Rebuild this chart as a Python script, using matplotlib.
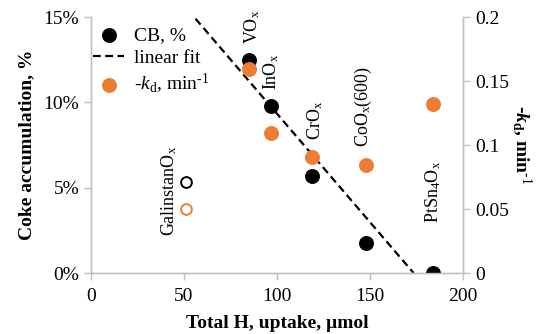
import numpy as np
import matplotlib
matplotlib.use("Agg")
import matplotlib.pyplot as plt
from matplotlib.ticker import FuncFormatter

plt.rcParams['font.family'] = ['Liberation Serif', 'DejaVu Serif']
plt.rcParams['mathtext.fontset'] = 'custom'
plt.rcParams['mathtext.rm'] = 'Liberation Serif'
plt.rcParams['mathtext.it'] = 'Liberation Serif:italic'
plt.rcParams['mathtext.bf'] = 'Liberation Serif:bold'
plt.rcParams['mathtext.bfit'] = 'Liberation Serif:italic:bold'

# data
catalysts = ["VO$_\\mathrm{x}$", "InO$_\\mathrm{x}$", "CrO$_\\mathrm{x}$",
             "CoO$_\\mathrm{x}$(600)", "PtSn$_4$O$_\\mathrm{x}$"]
h2_uptake = [85, 97, 119, 148, 184]
coke_pct = [12.5, 9.8, 5.7, 1.77, 0.0]
kd = [0.159, 0.109, 0.091, 0.084, 0.132]

galinstan_label = "GalinstanO$_\\mathrm{x}$"
galinstan_h2 = [51]
galinstan_coke = [5.33]
galinstan_kd = [0.050]

orange = "#ED7D31"
grey = "#BFBFBF"

fig = plt.figure(figsize=(5.4, 3.34), dpi=100)
ax = fig.add_axes([0.1685, 0.1826, 0.6889, 0.7665])
ax2 = ax.twinx()

# linear fit through the filled CB points
slope, icpt = np.polyfit(h2_uptake, coke_pct, 1)
x0 = (14.9 - icpt) / slope
x1 = -icpt / slope
xf = np.array([x0, x1])
fit_line, = ax.plot(xf, slope * xf + icpt, ls=(0, (3.5, 2)), color="black", lw=1.6)

cb = ax.scatter(h2_uptake, coke_pct, s=95, color="black", zorder=3)
ax.scatter(galinstan_h2, galinstan_coke, s=60, facecolors="white",
           edgecolors="black", linewidths=1.4, zorder=3)
kd_pts = ax2.scatter(h2_uptake, kd, s=95, color=orange, zorder=3)
ax2.scatter(galinstan_h2, galinstan_kd, s=60, facecolors="white",
            edgecolors=orange, linewidths=1.4, zorder=3)

ax.set_xlim(0, 200)
ax.set_ylim(0, 15)
ax2.set_ylim(0, 0.2)
ax.set_xticks([0, 50, 100, 150, 200])
ax.set_yticks([0, 5, 10, 15])
ax2.set_yticks([0, 0.05, 0.1, 0.15, 0.2])
ax.yaxis.set_major_formatter(FuncFormatter(lambda v, p: "%d%%" % v))
ax2.yaxis.set_major_formatter(FuncFormatter(lambda v, p: "%g" % v))

for a in (ax, ax2):
    a.spines["top"].set_visible(False)
    for s in ("left", "right", "bottom"):
        a.spines[s].set_color(grey)
        a.spines[s].set_linewidth(1.0)
    a.tick_params(colors=grey, labelcolor="black", labelsize=14,
                  length=5, width=1.0, direction="out")
ax.tick_params(axis="x", pad=6)

ax.set_xlabel("Total H, uptake, \u00b5mol", fontsize=14, fontweight="bold", labelpad=7)
ax.set_ylabel("Coke accumulation, %", fontsize=14, fontweight="bold", labelpad=6)
ax2.set_ylabel("-$\\mathbfit{k}_\\mathbf{d}$, min$^{\\text{-1}}$", fontsize=14,
               fontweight="bold", rotation=-90, labelpad=18)

# point labels, offsets in points from the CB marker of each catalyst
offsets = [(2, 11.5), (0, 11.5), (2, 26), (-2, 69), (0, 36)]
for name, x, c, off in zip(catalysts, h2_uptake, coke_pct, offsets):
    ax.annotate(name, (x, c), xytext=off, textcoords="offset points",
                rotation=90, ha="center", va="bottom", fontsize=13)
ax.annotate(galinstan_label, (galinstan_h2[0], galinstan_coke[0]), xytext=(-12, -39),
            textcoords="offset points", rotation=90, ha="center", va="bottom", fontsize=13)

leg = ax2.legend([cb, fit_line, kd_pts],
                 ["CB, %", "linear fit", "-$k_\\mathrm{d}$, min$^{\\text{-1}}$"],
                 loc="upper left", bbox_to_anchor=(-0.015, 0.995), frameon=False,
                 fontsize=14, handlelength=1.6, handletextpad=0.5, labelspacing=0.28,
                 borderaxespad=0)

fig.savefig("out.png", dpi=100)
